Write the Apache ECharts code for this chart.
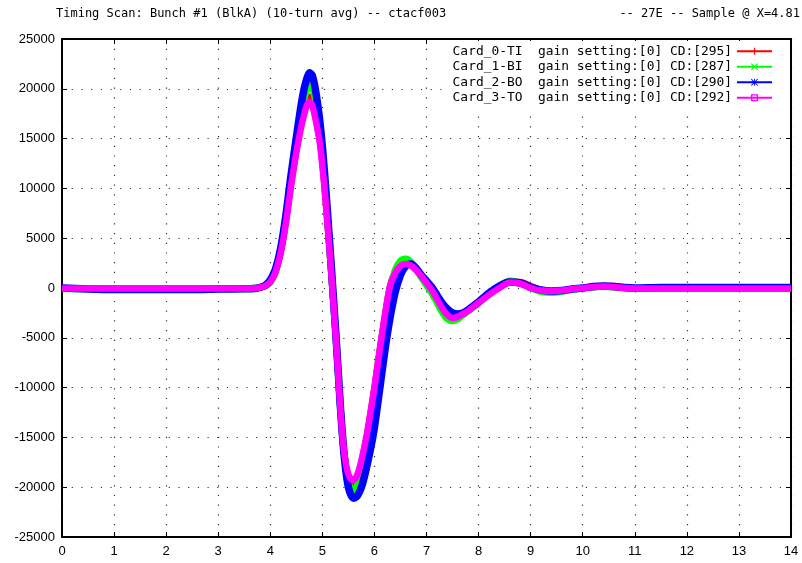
<!DOCTYPE html>
<html>
<head>
<meta charset="utf-8">
<title>Timing Scan</title>
<script src="https://cdn.jsdelivr.net/npm/echarts@6/dist/echarts.min.js"></script>
<style>
  * { margin: 0; padding: 0; }
  body { background: #fff; }
  #main { width: 802px; height: 563px; }
</style>
</head>
<body>
<!-- chart container -->
<div id="main"></div>
<script>
var titleLeft = 'Timing Scan: Bunch #1 (BlkA) (10-turn avg) -- ctacf003';
var titleRight = '-- 27E -- Sample @ X=4.81';

var names = [
  'Card_0-TI  gain setting:[0] CD:[295]',
  'Card_1-BI  gain setting:[0] CD:[287]',
  'Card_2-BO  gain setting:[0] CD:[290]',
  'Card_3-TO  gain setting:[0] CD:[292]'
];
var colors = ['#ff0000', '#00ff00', '#0000ff', '#ff00ff'];

// sample positions (x)
var xs = [
  0, 0.5, 1, 1.5, 2, 2.5, 3, 3.5,
  3.7, 3.8, 3.9,
  4.0, 4.1, 4.2, 4.3, 4.4, 4.5,
  4.55, 4.6, 4.65, 4.7, 4.75, 4.8, 4.85, 4.9, 4.95, 5.0,
  5.05, 5.1, 5.15, 5.2, 5.25, 5.3, 5.35, 5.4, 5.45, 5.5,
  5.55, 5.6, 5.65, 5.7, 5.75, 5.8, 5.85, 5.9, 5.95,
  6.0, 6.1, 6.2, 6.3, 6.4, 6.5, 6.6, 6.7, 6.8, 6.9,
  7.0, 7.1, 7.2, 7.3, 7.4, 7.5, 7.6, 7.7, 7.8, 7.9, 8.0,
  8.2, 8.4, 8.6, 8.8, 9.0, 9.2, 9.4, 9.6, 9.8, 10.0,
  10.2, 10.4, 10.6, 10.8, 11.0,
  11.5, 12, 12.5, 13, 13.5, 14
];

var card0 = [
  -50, -50, -50, -50, -50, -50, -50, -50,
  -30, 50, 200,
  600, 1600, 3600, 6700, 10500, 13900,
  15400, 16800, 18000, 18900, 19200, 18900, 17900, 16500, 14900, 12600,
  9700, 6400, 3000, -600, -4300, -8400, -12500, -15800, -18000, -19200,
  -19600, -19700, -19300, -18600, -17600, -16300, -15000, -13400, -11700,
  -10000, -6300, -2800, 200, 1600, 2300, 2500, 2300, 1800, 1200,
  500, -200, -1000, -1900, -2600, -2900, -2800, -2500, -2200, -1800, -1400,
  -600, 100, 600, 600, 200, -200, -300, -250, -100, 0,
  100, 200, 200, 50, -50,
  -50, -50, -50, -50, -50, -50
];

var card1 = [
  -80, -80, -80, -80, -80, -80, -80, -80,
  -30, 50, 200,
  600, 1700, 3800, 7000, 11000, 14500,
  16200, 17700, 19000, 20000, 20500, 20300, 19300, 17800, 15900, 13400,
  10400, 7000, 3400, -300, -4100, -8100, -12300, -15700, -18000, -19500,
  -20200, -20400, -20100, -19400, -18400, -17200, -15800, -14200, -12500,
  -10800, -7000, -3300, -100, 1800, 2700, 2900, 2600, 1900, 1100,
  300, -500, -1400, -2400, -3100, -3300, -3100, -2700, -2300, -1900, -1500,
  -600, 200, 700, 500, 0, -350, -450, -350, -150, 0,
  100, 150, 100, 0, -50,
  -50, -50, -50, -50, -50, -50
];

var card2 = [
  0, -100, -150, -150, -150, -150, -100, -80,
  -50, 50, 250,
  800, 1900, 4000, 7300, 11400, 15100,
  16900, 18600, 20000, 21000, 21600, 21400, 20400, 18800, 16800, 14200,
  11000, 7500, 3800, 0, -3900, -8000, -12200, -15700, -18300, -20000,
  -20800, -21100, -21000, -20600, -20000, -19100, -18000, -16800, -15500,
  -14000, -10200, -6300, -3000, -400, 1300, 2200, 2400, 2000, 1300,
  700, 100, -700, -1500, -2100, -2500, -2600, -2500, -2200, -1800, -1400,
  -500, 200, 600, 500, 100, -200, -300, -250, -100, 0,
  150, 200, 150, 50, 0,
  50, 50, 50, 50, 50, 50
];

var card3 = [
  -50, -50, -50, -50, -50, -50, -50, -50,
  -30, 50, 200,
  600, 1600, 3500, 6500, 10300, 13600,
  15000, 16300, 17400, 18300, 18700, 18400, 17400, 16100, 14600, 12300,
  9500, 6300, 3000, -600, -4300, -8300, -12400, -15600, -17600, -18700,
  -19200, -19300, -19000, -18300, -17300, -16100, -14800, -13300, -11700,
  -10000, -6300, -2800, 200, 1500, 2200, 2400, 2250, 1800, 1200,
  500, -200, -1100, -2000, -2700, -3000, -2900, -2600, -2300, -1900, -1500,
  -700, 0, 550, 450, 0, -250, -300, -250, -100, 0,
  100, 150, 100, 0, -50,
  -50, -50, -50, -50, -50, -50
];

var xTicks = [0, 14, 1];
var yTicks = [-25000, 25000, 5000];

// gnuplot style point markers for the key
var marks = [
  'path://M4.2,0H5.8V10H4.2ZM0,4.2H10V5.8H0Z',
  'path://M0,1.1L1.1,0L10,8.9L8.9,10ZM8.9,0L10,1.1L1.1,10L0,8.9Z',
  'path://M4.4,0H5.6V10H4.4ZM0,4.4H10V5.6H0ZM0,1L1,0L10,9L9,10ZM9,0L10,1L1,10L0,9Z',
  'path://M0,0H10V10H0ZM2,2V8H8V2Z'
];
var widths = [6.5, 7, 7.5, 6.5];

var chart = echarts.init(document.getElementById('main'));

var tickFont = { color: '#000', fontFamily: 'Liberation Sans', fontSize: 13 };
var gridDots = { show: true, lineStyle: { color: '#333', width: 1.2, type: [1.2, 8.5] } };

var series = [card0, card1, card2, card3].map(function (vals, i) {
  return {
    name: names[i],
    type: 'line',
    data: xs.map(function (x, j) { return [x, vals[j]]; }),
    symbol: marks[i],
    showSymbol: false,
    smooth: 0.25,
    color: colors[i],
    lineStyle: { width: widths[i], color: colors[i] },
    z: 2 + i
  };
});

chart.setOption({
  animation: false,
  backgroundColor: '#fff',
  title: [
    { text: titleLeft, left: 56, top: 8, padding: 0,
      textStyle: { fontFamily: 'DejaVu Sans Mono', fontSize: 12, fontWeight: 'normal', color: '#000' } },
    { text: titleRight, right: 2, top: 8, padding: 0,
      textStyle: { fontFamily: 'DejaVu Sans Mono', fontSize: 12, fontWeight: 'normal', color: '#000' } }
  ],
  legend: {
    data: names,
    orient: 'vertical',
    right: 12,
    top: 41,
    align: 'right',
    padding: [3, 17, 4, 6],
    itemGap: 1,
    itemWidth: 35,
    itemHeight: 9,
    backgroundColor: '#fff',
    lineStyle: { width: 2 },
    textStyle: { fontFamily: 'DejaVu Sans Mono', fontSize: 12.9, color: '#000', lineHeight: 14.5 }
  },
  grid: { left: 62, right: 11, top: 39, bottom: 26 },
  xAxis: [
    { type: 'value', min: xTicks[0], max: xTicks[1], interval: xTicks[2], position: 'bottom',
      axisLine: { onZero: false, lineStyle: { color: '#000', width: 2 } },
      axisTick: { inside: true, length: 5, lineStyle: { color: '#000' } },
      axisLabel: Object.assign({ margin: 8 }, tickFont),
      splitLine: gridDots },
    { type: 'value', min: xTicks[0], max: xTicks[1], interval: xTicks[2], position: 'top',
      axisLine: { onZero: false, lineStyle: { color: '#000', width: 2 } },
      axisTick: { inside: true, length: 5, lineStyle: { color: '#000' } },
      axisLabel: { show: false }, splitLine: { show: false } }
  ],
  yAxis: [
    { type: 'value', min: yTicks[0], max: yTicks[1], interval: yTicks[2], position: 'left',
      axisLine: { show: true, onZero: false, lineStyle: { color: '#000', width: 2 } },
      axisTick: { show: true, inside: true, length: 5, lineStyle: { color: '#000' } },
      axisLabel: Object.assign({ margin: 7, formatter: function (v) { return String(v); } }, tickFont),
      splitLine: gridDots },
    { type: 'value', min: yTicks[0], max: yTicks[1], interval: yTicks[2], position: 'right',
      axisLine: { show: true, onZero: false, lineStyle: { color: '#000', width: 2 } },
      axisTick: { show: true, inside: true, length: 5, lineStyle: { color: '#000' } },
      axisLabel: { show: false }, splitLine: { show: false } }
  ],
  series: series
});
</script>
</body>
</html>
